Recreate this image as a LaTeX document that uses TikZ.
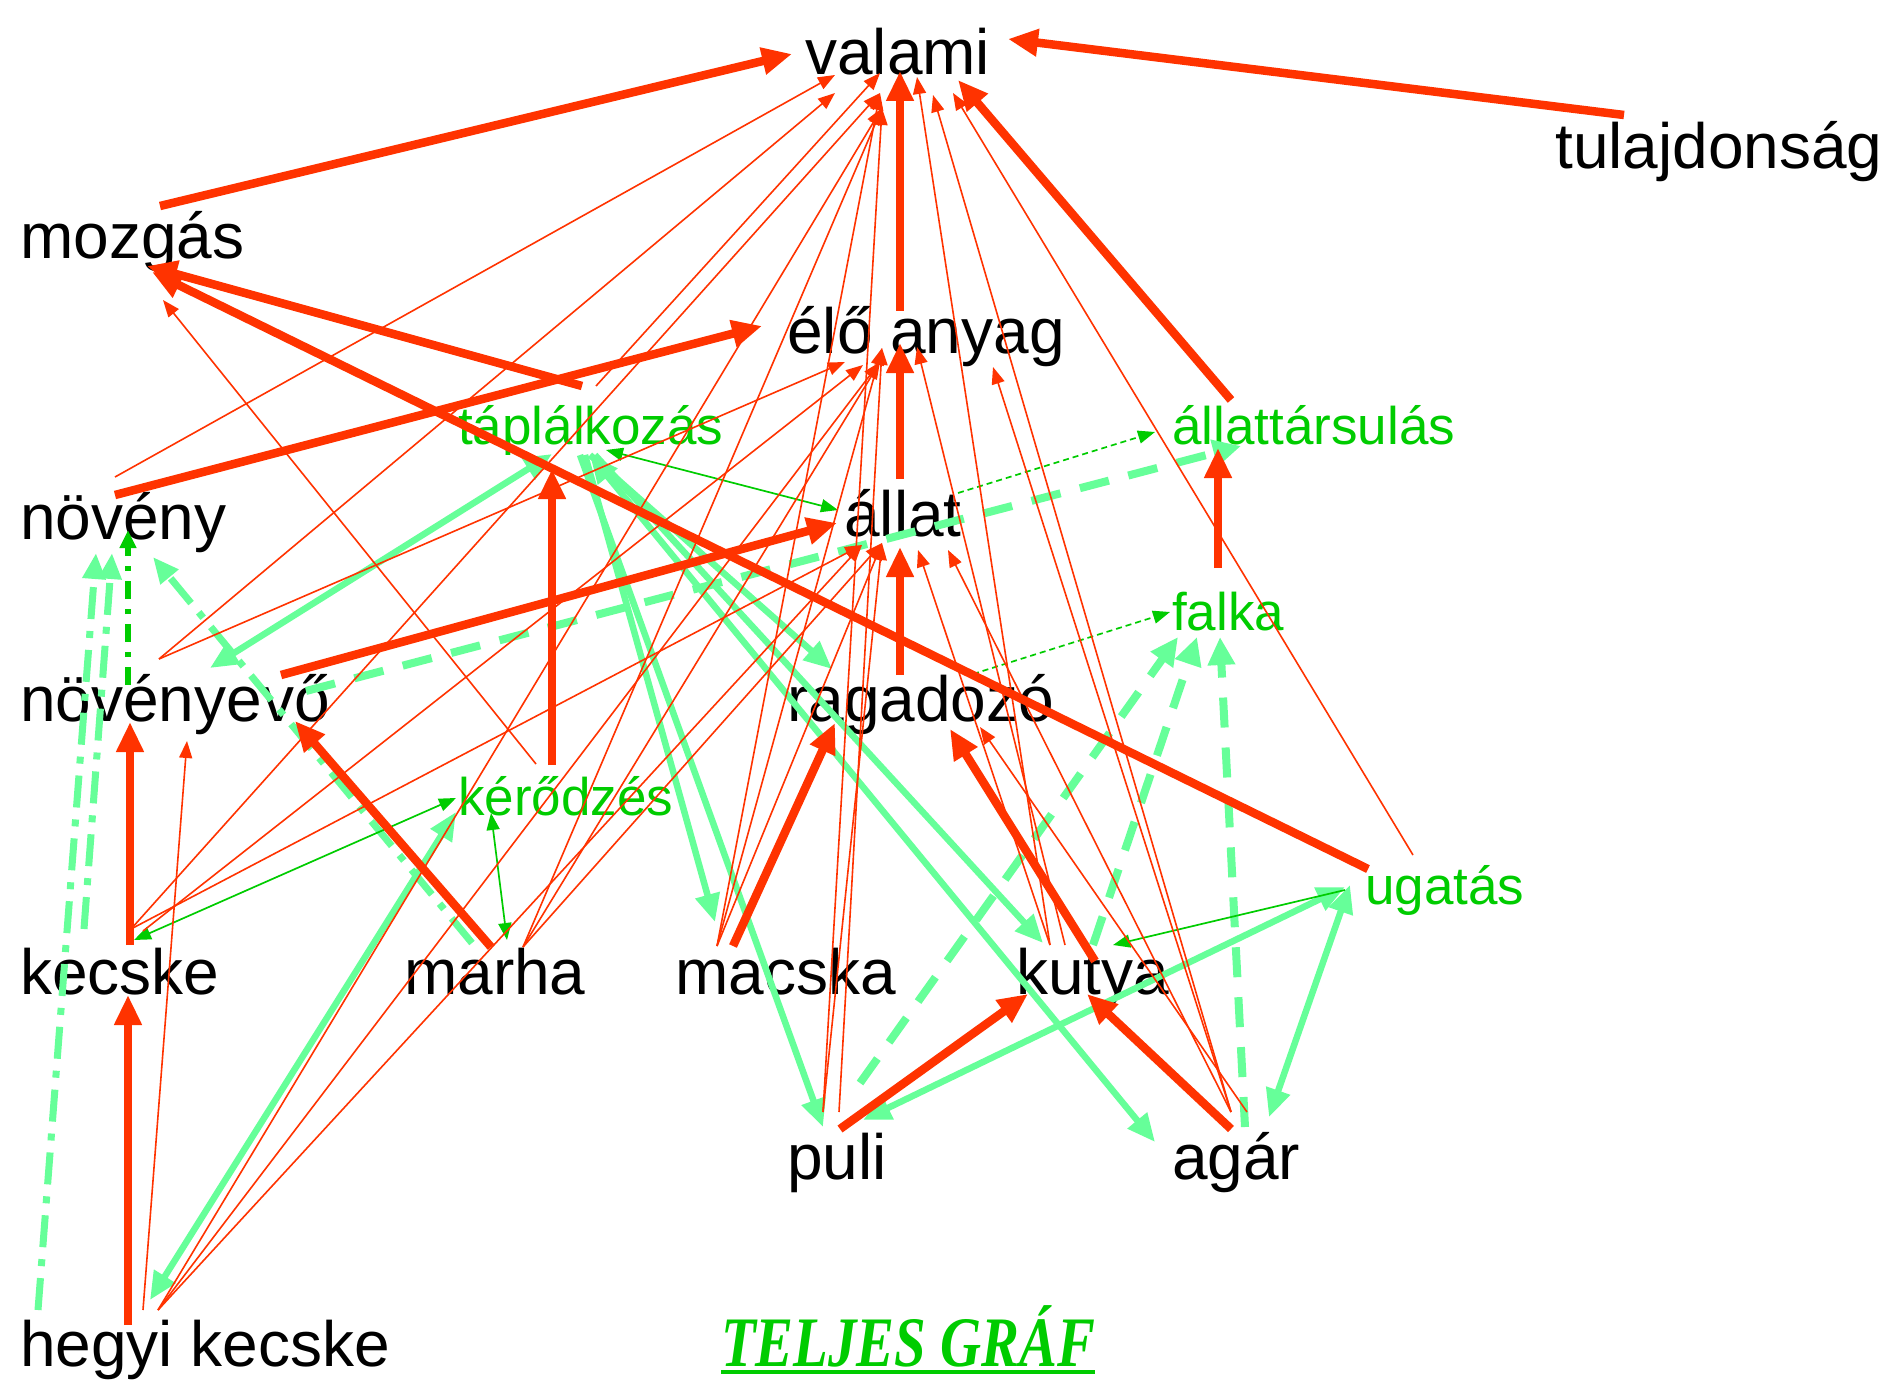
\documentclass[tikz,border=0pt]{standalone}
\usepackage{fontspec}
\setmainfont{Liberation Sans}
\newfontfamily\tgfont[FakeStretch=0.8]{Liberation Serif}
\usetikzlibrary{arrows.meta}
\definecolor{tred}{RGB}{255,51,0}
\definecolor{lgreen}{RGB}{102,255,153}
\definecolor{dgreen}{RGB}{0,204,0}
\begin{document}
\begin{tikzpicture}[x=1pt,y=-1pt,
  lbl/.style={anchor=base west, inner sep=0pt, font=\fontsize{64}{70}\selectfont, text=black},
  glbl/.style={anchor=base west, inner sep=0pt, font=\fontsize{53}{60}\selectfont, text=dgreen},
  tk/.style={tred, line width=8.5pt, -{Triangle[length=30pt,width=26pt]}},
  tn/.style={tred, line width=1.6pt, -{Triangle[length=17pt,width=13pt]}},
  lg/.style={lgreen, line width=6.5pt, -{Triangle[length=28pt,width=24pt]}},
  lgb/.style={lgreen, line width=6.5pt, {Triangle[length=28pt,width=24pt]}-{Triangle[length=28pt,width=24pt]}},
  lgd/.style={lgreen, line width=8pt, dash pattern=on 30pt off 20pt, -{Triangle[length=28pt,width=26pt]}},
  lgdd/.style={lgreen, line width=7pt, dash pattern=on 32pt off 12pt on 7pt off 12pt, -{Triangle[length=26pt,width=22pt]}},
  dg/.style={dgreen, line width=1.7pt, -{Triangle[length=17pt,width=13pt]}},
  dgb/.style={dgreen, line width=1.7pt, {Triangle[length=17pt,width=13pt]}-{Triangle[length=17pt,width=13pt]}},
  dgd/.style={dgreen, line width=1.7pt, dash pattern=on 6pt off 4pt, -{Triangle[length=17pt,width=13pt]}},
  dgdd/.style={dgreen, line width=6pt, dash pattern=on 18pt off 10pt on 5pt off 10pt, -{Triangle[length=18pt,width=16pt]}}
]
\useasboundingbox (0,0) rectangle (1890,1380);
\fill[white] (0,0) rectangle (1890,1380);

% nodes
\node[lbl] (valami) at (805,75) {valami};
\node[lbl] (tulaj) at (1555,169) {tulajdonság};
\node[lbl] (mozgas) at (20,259) {mozgás};
\node[lbl] (elo) at (787,353) {élő anyag};
\node[glbl] (tapl) at (458,444) {táplálkozás};
\node[glbl] (allattars) at (1172,444) {állattársulás};
\node[lbl] (noveny) at (20,539) {növény};
\node[lbl] (allat) at (844,536) {állat};
\node[glbl] (falka) at (1172,630) {falka};
\node[lbl] (novenyevo) at (20,721) {növényevő};
\node[lbl] (ragadozo) at (787,721) {ragadozó};
\node[glbl] (kerod) at (458,815) {kérődzés};
\node[glbl] (ugatas) at (1365,904) {ugatás};
\node[lbl] (kecske) at (20,994) {kecske};
\node[lbl] (marha) at (404,994) {marha};
\node[lbl] (macska) at (675,994) {macska};
\node[lbl] (kutya) at (1016,994) {kutya};
\node[lbl] (puli) at (787,1179) {puli};
\node[lbl] (agar) at (1172,1179) {agár};
\node[lbl] (hegyi) at (20,1366) {hegyi kecske};
\node[anchor=base west, inner sep=0pt, text=dgreen, font=\tgfont\bfseries\itshape\fontsize{71}{75}\selectfont] (title) at (721,1366) {TELJES GRÁF};
\draw[dgreen, line width=3.5pt] ([yshift=-6pt]title.base west) -- ([yshift=-6pt]title.base east);

% light green dash-dot
\draw[lgdd] ([shift={(68,-51)}]marha.base west) -- ([shift={(133,18)}]noveny.base west);
\draw[lgdd] ([shift={(64,-65)}]kecske.base west) -- ([shift={(92,14)}]noveny.base west);
\draw[lgdd] ([shift={(18,-56)}]hegyi.base west) -- ([shift={(76,14)}]noveny.base west);
% light green dashed
\draw[lgd] ([shift={(286,-30)}]novenyevo.base west) -- ([shift={(69,2)}]allattars.base west);
\draw[lgd] ([shift={(73,-96)}]puli.base west) -- ([shift={(6,7)}]falka.base west);
\draw[lgd] ([shift={(77,-49)}]kutya.base west) -- ([shift={(25,7)}]falka.base west);
\draw[lgd] ([shift={(73,-52)}]agar.base west) -- ([shift={(48,7)}]falka.base west);
% light green solid
\draw[lgb] ([shift={(94,10)}]tapl.base west) -- ([shift={(190,-53)}]novenyevo.base west);
\draw[lg] ([shift={(132,11)}]tapl.base west) -- ([shift={(45,-52)}]ragadozo.base west);
\draw[lg] ([shift={(127,11)}]tapl.base west) -- ([shift={(40,-72)}]macska.base west);
\draw[lg] ([shift={(122,11)}]tapl.base west) -- ([shift={(36,-52)}]puli.base west);
\draw[lg] ([shift={(137,11)}]tapl.base west) -- ([shift={(27,-51)}]kutya.base west);
\draw[lgb] ([shift={(132,11)}]tapl.base west) -- ([shift={(-17,-37)}]agar.base west);
\draw[lgb] ([shift={(-2,-3)}]kerod.base west) -- ([shift={(130,-66)}]hegyi.base west);
\draw[lgb] ([shift={(-20,-17)}]ugatas.base west) -- ([shift={(76,-59)}]puli.base west);
\draw[lgb] ([shift={(-15,-19)}]ugatas.base west) -- ([shift={(97,-62)}]agar.base west);

% dark green
\draw[dgb] ([shift={(148,6)}]tapl.base west) -- ([shift={(-6,-26)}]allat.base west);
\draw[dgd] ([shift={(114,-43)}]allat.base west) -- ([shift={(-17,-12)}]allattars.base west);
\draw[dgd] ([shift={(186,-47)}]ragadozo.base west) -- ([shift={(-2,-18)}]falka.base west);
\draw[dgb] ([shift={(-2,-17)}]kerod.base west) -- ([shift={(114,-54)}]kecske.base west);
\draw[dgb] ([shift={(33,-2)}]kerod.base west) -- ([shift={(103,-54)}]marha.base west);
\draw[dg] ([shift={(-20,-14)}]ugatas.base west) -- ([shift={(97,-49)}]kutya.base west);
\draw[dgdd] ([shift={(108,-36)}]novenyevo.base west) -- ([shift={(108,-9)}]noveny.base west);

% thin red: to valami
\draw[tn] ([shift={(95,-62)}]noveny.base west) -- ([shift={(30,0)}]valami.base west);
\draw[tn] ([shift={(138,-58)}]tapl.base west) -- ([shift={(75,-2)}]valami.base west);
\draw[tn] ([shift={(139,-62)}]novenyevo.base west) -- ([shift={(30,18)}]valami.base west);
\draw[tn] ([shift={(111,-65)}]kecske.base west) -- ([shift={(75,18)}]valami.base west);
\draw[tn] ([shift={(138,-56)}]hegyi.base west) -- ([shift={(77,33)}]valami.base west);
\draw[tn] ([shift={(119,-47)}]marha.base west) -- ([shift={(77,33)}]valami.base west);
\draw[tn] ([shift={(42,-48)}]macska.base west) -- ([shift={(75,18)}]valami.base west);
\draw[tn] ([shift={(36,-67)}]puli.base west) -- ([shift={(77,33)}]valami.base west);
\draw[tn] ([shift={(34,-49)}]kutya.base west) -- ([shift={(112,2)}]valami.base west);
\draw[tn] ([shift={(59,-67)}]agar.base west) -- ([shift={(128,20)}]valami.base west);
\draw[tn] ([shift={(48,-49)}]ugatas.base west) -- ([shift={(148,18)}]valami.base west);
% thin red: to elo anyag
\draw[tn] ([shift={(139,-62)}]novenyevo.base west) -- ([shift={(58,9)}]elo.base west);
\draw[tn] ([shift={(123,-63)}]kecske.base west) -- ([shift={(76,12)}]elo.base west);
\draw[tn] ([shift={(138,-56)}]hegyi.base west) -- ([shift={(93,9)}]elo.base west);
\draw[tn] ([shift={(119,-47)}]marha.base west) -- ([shift={(93,9)}]elo.base west);
\draw[tn] ([shift={(42,-48)}]macska.base west) -- ([shift={(95,-5)}]elo.base west);
\draw[tn] ([shift={(52,-67)}]puli.base west) -- ([shift={(95,-5)}]elo.base west);
\draw[tn] ([shift={(49,-49)}]kutya.base west) -- ([shift={(130,-6)}]elo.base west);
\draw[tn] ([shift={(59,-67)}]agar.base west) -- ([shift={(206,14)}]elo.base west);
% thin red: to allat
\draw[tn] ([shift={(111,-65)}]kecske.base west) -- ([shift={(18,9)}]allat.base west);
\draw[tn] ([shift={(138,-56)}]hegyi.base west) -- ([shift={(18,9)}]allat.base west);
\draw[tn] ([shift={(119,-47)}]marha.base west) -- ([shift={(38,7)}]allat.base west);
\draw[tn] ([shift={(42,-48)}]macska.base west) -- ([shift={(38,7)}]allat.base west);
\draw[tn] ([shift={(36,-67)}]puli.base west) -- ([shift={(38,7)}]allat.base west);
\draw[tn] ([shift={(34,-49)}]kutya.base west) -- ([shift={(74,14)}]allat.base west);
\draw[tn] ([shift={(59,-67)}]agar.base west) -- ([shift={(104,14)}]allat.base west);
% thin red: others
\draw[tn] ([shift={(123,-56)}]hegyi.base west) -- ([shift={(167,20)}]novenyevo.base west);
\draw[tn] ([shift={(75,-67)}]agar.base west) -- ([shift={(193,6)}]ragadozo.base west);
\draw[tn] ([shift={(78,-51)}]kerod.base west) -- ([shift={(143,41)}]mozgas.base west);

% thick red
\draw[tk] ([shift={(140,-53)}]mozgas.base west) -- ([shift={(-13,-21)}]valami.base west);
\draw[tk] ([shift={(69,-54)}]tulaj.base west) -- ([shift={(203,-36)}]valami.base west);
\draw[tk] ([shift={(113,-42)}]elo.base west) -- ([shift={(95,-4)}]valami.base west);
\draw[tk] ([shift={(56,-57)}]allat.base west) -- ([shift={(113,-10)}]elo.base west);
\draw[tk] ([shift={(113,-46)}]ragadozo.base west) -- ([shift={(56,11)}]allat.base west);
\draw[tk] ([shift={(59,-44)}]allattars.base west) -- ([shift={(153,5)}]valami.base west);
\draw[tk] ([shift={(46,-62)}]falka.base west) -- ([shift={(46,4)}]allattars.base west);
\draw[tk] ([shift={(95,-44)}]noveny.base west) -- ([shift={(-25,-27)}]elo.base west);
\draw[tk] ([shift={(124,-58)}]tapl.base west) -- ([shift={(127,7)}]mozgas.base west);
\draw[tk] ([shift={(3,-35)}]ugatas.base west) -- ([shift={(132,13)}]mozgas.base west);
\draw[tk] ([shift={(261,-46)}]novenyevo.base west) -- ([shift={(-7,-13)}]allat.base west);
\draw[tk] ([shift={(94,-50)}]kerod.base west) -- ([shift={(94,25)}]tapl.base west);
\draw[tk] ([shift={(110,-49)}]kecske.base west) -- ([shift={(110,1)}]novenyevo.base west);
\draw[tk] ([shift={(108,-41)}]hegyi.base west) -- ([shift={(108,1)}]kecske.base west);
\draw[tk] ([shift={(87,-47)}]marha.base west) -- ([shift={(275,0)}]novenyevo.base west);
\draw[tk] ([shift={(58,-48)}]macska.base west) -- ([shift={(48,2)}]ragadozo.base west);
\draw[tk] ([shift={(79,-33)}]kutya.base west) -- ([shift={(163,8)}]ragadozo.base west);
\draw[tk] ([shift={(53,-50)}]puli.base west) -- ([shift={(12,0)}]kutya.base west);
\draw[tk] ([shift={(59,-50)}]agar.base west) -- ([shift={(71,0)}]kutya.base west);
\end{tikzpicture}
\end{document}
